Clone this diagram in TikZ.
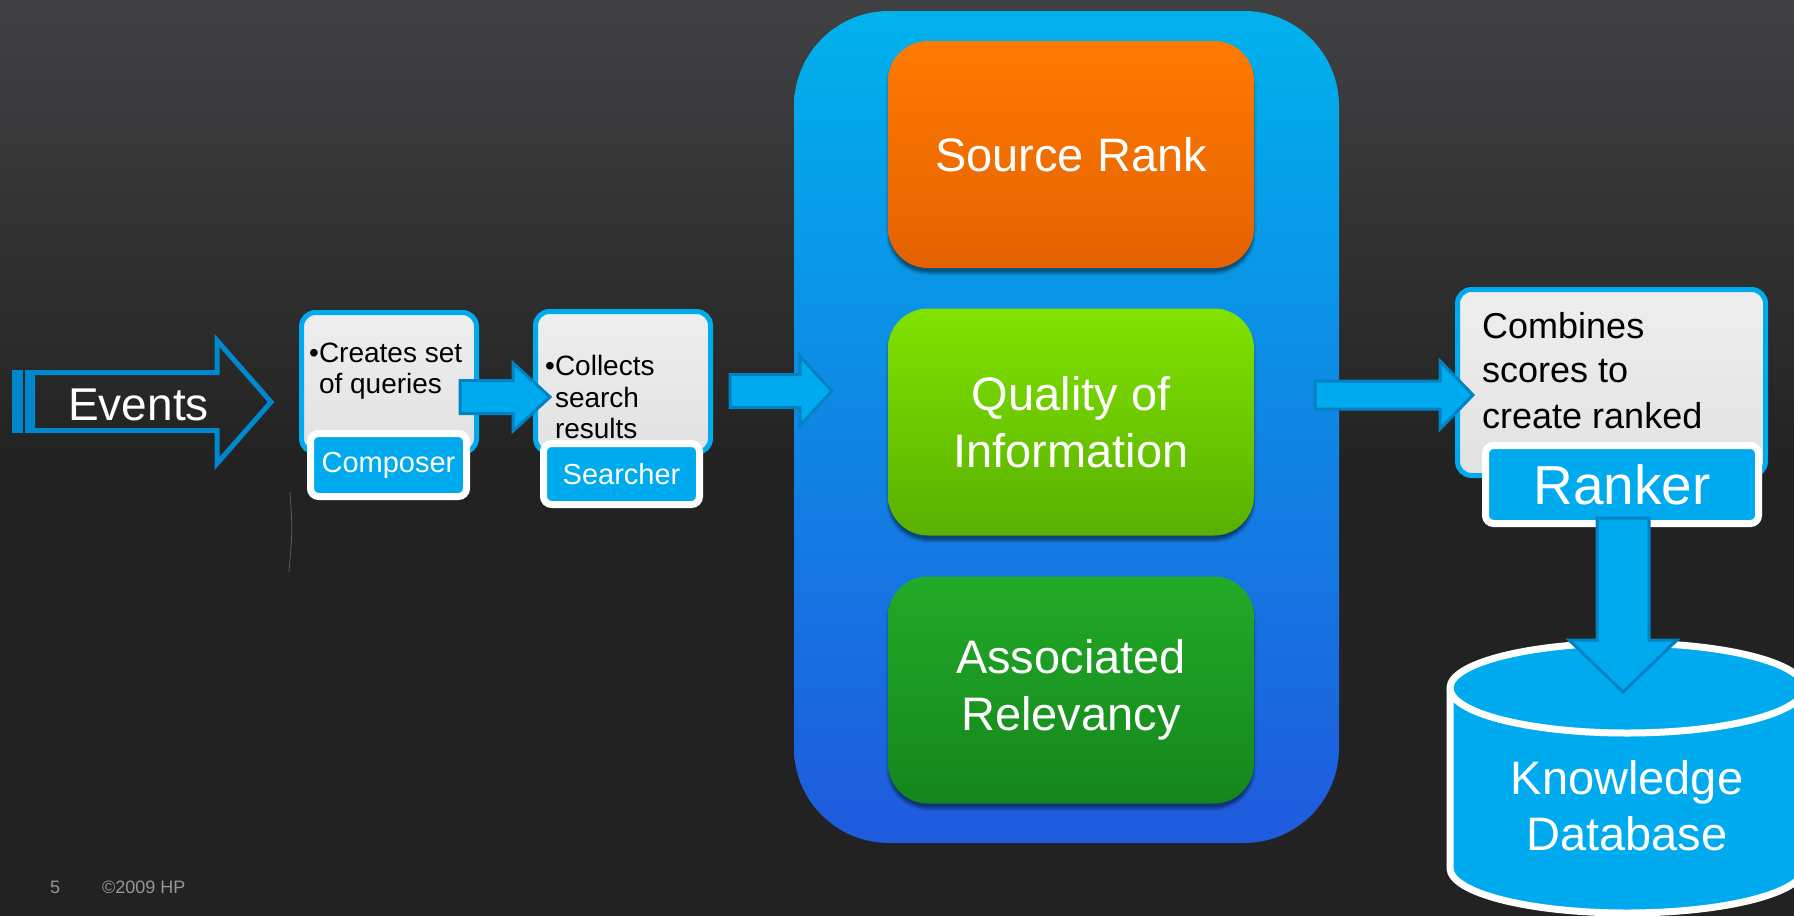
\documentclass[tikz,border=0pt]{standalone}
\usepackage{fontspec}
\setmainfont{Liberation Sans}
\usetikzlibrary{shadows,shadows.blur,calc}
\definecolor{bgdark}{RGB}{35,34,34}
\definecolor{bgtop}{RGB}{64,65,67}
\definecolor{cyanF}{RGB}{0,170,238}
\definecolor{cyanB}{RGB}{0,130,195}
\definecolor{evB}{RGB}{0,136,204}
\definecolor{bigTop}{RGB}{0,178,236}
\definecolor{bigBot}{RGB}{31,90,221}
\definecolor{orT}{RGB}{255,122,0}
\definecolor{orB}{RGB}{228,98,0}
\definecolor{lgT}{RGB}{130,226,0}
\definecolor{lgB}{RGB}{88,176,0}
\definecolor{dgT}{RGB}{34,170,40}
\definecolor{dgB}{RGB}{20,134,28}
\definecolor{grT}{RGB}{238,238,238}
\definecolor{grB}{RGB}{226,226,226}
\definecolor{foot}{RGB}{150,150,150}
\definecolor{faint}{RGB}{90,92,100}
\begin{document}
\begin{tikzpicture}[x=1pt,y=-1pt,
 graybox/.style={draw=cyanF, line width=5pt, top color=grT, bottom color=grB, rounded corners=14pt, inner sep=0pt},
 lbl/.style={draw=white, line width=7pt, fill=cyanF, rounded corners=8pt, inner sep=0pt, text=white},
 innerbox/.style={rounded corners=40pt, minimum width=366pt, minimum height=227pt, inner sep=0pt, text=white, align=center, font=\fontsize{47}{57}\selectfont, blur shadow={shadow xshift=0pt, shadow yshift=-5pt, shadow opacity=45, shadow blur steps=6}},
 barrow/.style={fill=cyanF, draw=cyanB, line width=3pt, line join=miter},
 btxt/.style={anchor=base west, text=black, font=\fontsize{28}{32}\selectfont, inner sep=0pt},
 rtxt/.style={anchor=base west, text=black, font=\fontsize{36}{44}\selectfont, inner sep=0pt},
]
\useasboundingbox (0,0) rectangle (1794,916);
\clip (0,0) rectangle (1794,916);
% background
\fill[bgdark] (0,0) rectangle (1794,916);
\shade[top color=bgtop, bottom color=bgdark] (0,0) rectangle (1794,470);

% big container
\node[top color=bigTop, bottom color=bigBot, rounded corners=95pt, minimum width=545pt, minimum height=832pt, inner sep=0pt] (big) at (1066.5,427) {};
\node[innerbox, top color=orT, bottom color=orB] (src) at (1071,154.5) {Source Rank};
\node[innerbox, top color=lgT, bottom color=lgB] (qual) at (1071,422) {Quality of\\Information};
\node[innerbox, top color=dgT, bottom color=dgB] (assoc) at (1071,690) {Associated\\Relevancy};

% Events striped arrow
\fill[evB] (12,370) rectangle (23,433);
\fill[evB] (25,370) rectangle (35,433);
\draw[evB, line width=5pt, line join=miter] (32.5,372.5) -- (217,372.5) -- (217,340.5) -- (271,402) -- (217,463.5) -- (217,430.5) -- (32.5,430.5) -- cycle;
\node[text=white, font=\fontsize{46}{55}\selectfont, anchor=base, inner sep=0pt] (ev) at (138.5,420) {Events};

% faint stray stroke
\draw[faint, line width=0.8pt] (290,492) .. controls (292.5,530) .. (289,572);

% gray boxes
\node[graybox, minimum width=175pt, minimum height=140pt] (comp) at (389,382.5) {};
\node[graybox, minimum width=175pt, minimum height=141pt] (srch) at (623,382) {};
\node[graybox, minimum width=308pt, minimum height=186pt] (rnk) at (1611.5,382.5) {};

\node[btxt] (c1) at (309,362) {•Creates set};
\node[btxt] (c2) at (309,393) {\phantom{•}of queries};
\node[btxt] (s1) at (545,375) {•Collects};
\node[btxt] (s2) at (545,407) {\phantom{•}search};
\node[btxt] (s3) at (545,438) {\phantom{•}results};
\node[rtxt] (r1) at (1482,338) {Combines};
\node[rtxt] (r2) at (1482,382) {scores to};
\node[rtxt] (r3) at (1482,428) {create ranked};

% labels
\node[lbl, minimum width=156pt, minimum height=63pt, font=\fontsize{29}{32}\selectfont] (compL) at (388.5,465) {Composer};
\node[lbl, minimum width=156pt, minimum height=61pt, font=\fontsize{29}{32}\selectfont] (srchL) at (621.5,474) {Searcher};
\node[lbl, minimum width=273pt, minimum height=78pt, font=\fontsize{55}{60}\selectfont] (rnkL) at (1622,484.5) {Ranker};

% block arrows
\draw[barrow] (460,380.5) -- (513,380.5) -- (513,363) -- (550,397) -- (513,431) -- (513,413.5) -- (460,413.5) -- cycle;
\draw[barrow] (730,374.5) -- (800,374.5) -- (800,356.5) -- (832,391) -- (800,425.5) -- (800,407.5) -- (730,407.5) -- cycle;
\draw[barrow] (1315,381) -- (1440,381) -- (1440,361) -- (1473,395) -- (1440,429) -- (1440,409) -- (1315,409) -- cycle;

% database cylinder
\path[draw=white, line width=7pt, fill=cyanF] (1450,688) -- (1450,868)
  arc[start angle=180, end angle=0, x radius=177, y radius=45] -- (1804,688)
  arc[start angle=0, end angle=-180, x radius=177, y radius=45] -- cycle;
\draw[white, line width=7pt] (1450,688) arc[start angle=180, end angle=0, x radius=177, y radius=45];
\coordinate (db) at (1627,688);
\node[text=white, align=center, font=\fontsize{47}{56}\selectfont, inner sep=0pt] (dbt) at (1627,806) {Knowledge\\Database};

% down arrow
\draw[barrow] (1597,518) -- (1597,640) -- (1569,640) -- (1623,692) -- (1677,640) -- (1649,640) -- (1649,518) -- cycle;

% footer
\node[text=foot, font=\fontsize{18}{20}\selectfont, anchor=base west, inner sep=0pt] (pg) at (50,893) {5};
\node[text=foot, font=\fontsize{18}{20}\selectfont, anchor=base west, inner sep=0pt] (cp) at (102,893) {©2009 HP};
\end{tikzpicture}
\end{document}
